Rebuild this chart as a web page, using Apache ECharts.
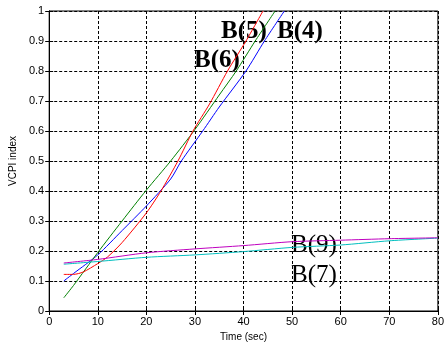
<!DOCTYPE html>
<html><head><meta charset="utf-8">
<script src="https://cdn.jsdelivr.net/npm/echarts@6/dist/echarts.min.js"></script>
<style>html,body{margin:0;padding:0;background:#fff}#c{width:447px;height:347px}</style>
</head><body><div id="c"></div>
<script>
// Series data: [time (sec), VCPI index]
const b4 = [[3,0.10],[5,0.125],[10,0.187],[15,0.268],[20,0.35],[25,0.44],[27.2,0.5],[31.6,0.6],[35,0.68],[40.5,0.8],[44.3,0.9],[48.4,1.0]];
const b5 = [[3,0.044],[5,0.085],[10,0.195],[15,0.30],[20,0.403],[25,0.50],[30,0.605],[35,0.72],[38.5,0.8],[42.4,0.9],[46.5,1.0]];
const b6 = [[3,0.122],[5,0.122],[7,0.13],[10,0.158],[12,0.18],[15,0.228],[20,0.327],[23,0.4],[26.5,0.5],[29.6,0.6],[33,0.69],[36.7,0.8],[40.5,0.9],[44,1.0]];
const b7 = [[3,0.156],[10,0.165],[20,0.179],[30,0.187],[40,0.198],[50,0.212],[60,0.22],[70,0.234],[80,0.243]];
const b9 = [[3,0.16],[10,0.172],[20,0.194],[30,0.207],[40,0.218],[50,0.231],[60,0.236],[70,0.241],[80,0.244]];
const xTicks = [0,10,20,30,40,50,60,70,80];
const yTicks = [0,0.1,0.2,0.3,0.4,0.5,0.6,0.7,0.8,0.9,1];
const xName = 'Time (sec)';
const yName = 'VCPI index';

const chart = echarts.init(document.getElementById('c'));
const tickFont = {color:'#000', fontFamily:'Arial, Liberation Sans, sans-serif', fontSize:11};
const gridLine = {show:true, lineStyle:{color:'#000', type:[3,2], width:1}};
function line(data,color){return {type:'line', data:data, showSymbol:false, symbol:'none', smooth:0.25, lineStyle:{color:color,width:1}, itemStyle:{color:color}, clip:true, animation:false};}
const serifBold = 'bold 25px "Liberation Serif", "Times New Roman", serif';
const serif = '25px "Liberation Serif", "Times New Roman", serif';
chart.setOption({
  animation:false,
  grid:{left:49, right:7, top:11, bottom:36, show:true, borderColor:'#000', borderWidth:1},
  xAxis:[{type:'value', min:xTicks[0], max:xTicks[xTicks.length-1], interval:10,
    name:xName, nameLocation:'middle', nameGap:21, nameTextStyle:{color:'#000',fontSize:10,fontFamily:'Arial, Liberation Sans, sans-serif'},
    axisLine:{show:true,lineStyle:{color:'#000',width:1}}, axisTick:{show:true,inside:true,length:4,lineStyle:{color:'#000'}},
    axisLabel:Object.assign({margin:5},tickFont), splitLine:gridLine},
    {type:'value', position:'top', min:0, max:80, interval:10, axisLine:{show:true,lineStyle:{color:'#000'}}, axisTick:{show:true,inside:true,length:4,lineStyle:{color:'#000'}}, axisLabel:{show:false}, splitLine:{show:false}}],
  yAxis:[{type:'value', min:yTicks[0], max:yTicks[yTicks.length-1], interval:0.1,
    name:yName, nameLocation:'middle', nameGap:28, nameTextStyle:{color:'#000',fontSize:10,fontFamily:'Arial, Liberation Sans, sans-serif'},
    axisLine:{show:true,lineStyle:{color:'#000',width:1}}, axisTick:{show:true,inside:true,length:4,lineStyle:{color:'#000'}},
    axisLabel:Object.assign({margin:5, formatter:v=>String(Math.round(v*10)/10)},tickFont), splitLine:gridLine},
    {type:'value', position:'right', min:0, max:1, interval:0.1, axisLine:{show:true,lineStyle:{color:'#000'}}, axisTick:{show:true,inside:true,length:4,lineStyle:{color:'#000'}}, axisLabel:{show:false}, splitLine:{show:false}}],
  series:[line(b4,'#0000ff'), line(b5,'#008000'), line(b6,'#ff0000'), line(b7,'#00bfbf'), line(b9,'#bf00bf')],
  graphic:[
    {type:'text', left:221, top:19, style:{text:'B(5)', font:serifBold, fill:'#000'}},
    {type:'text', left:277, top:19, style:{text:'B(4)', font:serifBold, fill:'#000'}},
    {type:'text', left:194, top:48, style:{text:'B(6)', font:serifBold, fill:'#000'}},
    {type:'text', left:291, top:233, style:{text:'B(9)', font:serif, fill:'#000'}},
    {type:'text', left:291, top:263, style:{text:'B(7)', font:serif, fill:'#000'}}
  ]
});
</script></body></html>
